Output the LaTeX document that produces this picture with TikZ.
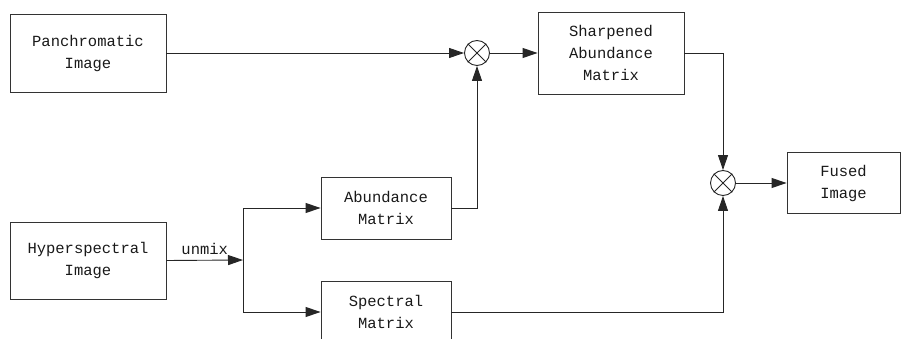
\documentclass[tikz,border=0pt]{standalone}
\usepackage{fontspec}
\newfontfamily\diagfont{Liberation Mono}
\usepackage{tikz}
\usetikzlibrary{arrows.meta,positioning}

\begin{document}
\begin{tikzpicture}[
    x=1pt, y=-1pt,
    box/.style={draw=black!80, line width=0.9pt, align=center, text=black!90,
                font=\diagfont\fontsize{15.5}{22}\selectfont, inner sep=0pt},
    mult/.style={draw=black!85, line width=0.9pt, circle, minimum size=25pt, inner sep=0pt},
    arr/.style={-{Triangle[length=15pt,width=10pt]}, line width=0.9pt, draw=black!85}
]
    \clip (0,0) rectangle (906,339);

    \node[box, minimum width=156pt, minimum height=78pt] (pan)   at (88,53)    {Panchromatic\\Image};
    \node[box, minimum width=156pt, minimum height=77pt] (hyper) at (88,260.5) {Hyperspectral\\Image};
    \node[box, minimum width=130pt, minimum height=62pt] (abund) at (386,208)  {Abundance\\Matrix};
    \node[box, minimum width=130pt, minimum height=62pt] (spec)  at (386,312)  {Spectral\\Matrix};
    \node[box, minimum width=146pt, minimum height=82pt] (sharp) at (611,53)   {Sharpened\\Abundance\\Matrix};
    \node[box, minimum width=113pt, minimum height=61pt] (fused) at (843.5,183) {Fused\\Image};

    \node[mult] (mulA) at (477,53) {};
    \node[mult] (mulB) at (723,183) {};
    \draw[line width=0.9pt, black!85] (mulA.north east) -- (mulA.south west) (mulA.north west) -- (mulA.south east);
    \draw[line width=0.9pt, black!85] (mulB.north east) -- (mulB.south west) (mulB.north west) -- (mulB.south east);

    \coordinate (split) at (243,260);

    \draw[arr] (hyper.east) -- node[above=2pt, font=\diagfont\fontsize{15.5}{18}\selectfont, text=black!90]{unmix} (split);
    \draw[arr] (split) |- (abund.west);
    \draw[arr] (split) |- (spec.west);
    \draw[arr] (pan.east)   -- (mulA.west);
    \draw[arr] (abund.east) -| (mulA.south);
    \draw[arr] (mulA.east)  -- (sharp.west);
    \draw[arr] (sharp.east) -| (mulB.north);
    \draw[arr] (spec.east)  -| (mulB.south);
    \draw[arr] (mulB.east)  -- (fused.west);
\end{tikzpicture}
\end{document}
